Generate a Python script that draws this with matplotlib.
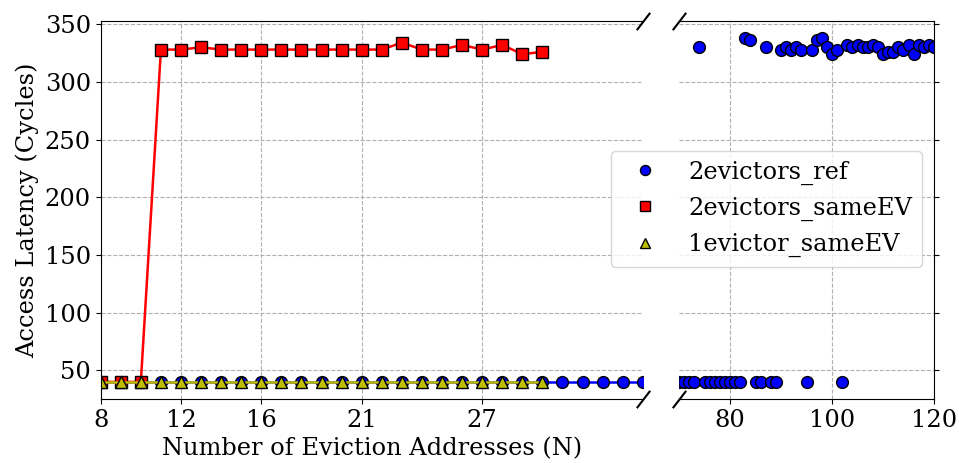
import numpy as np
import matplotlib
matplotlib.use('Agg')
import matplotlib.pyplot as plt
from matplotlib.lines import Line2D

plt.rcParams['font.family'] = 'DejaVu Serif'
plt.rcParams['font.size'] = 17.4

# eviction set sizes and measured latencies
ref_x = list(range(8, 36)) + list(range(70, 121))
ref_y = [40] * 28 + [
    40, 40, 40, 40, 330, 40, 40, 40, 40, 40, 40, 40, 40,   # 70-82
    338, 336, 40, 40, 330, 40, 40,                           # 83-89
    328, 330, 328, 330, 328, 40, 328, 336, 338, 330,         # 90-99
    324, 328, 40, 332, 330, 332, 330, 330, 332, 330,         # 100-109
    324, 326, 326, 330, 328, 332, 324, 332, 330, 332, 330,   # 110-120
]

same_x = list(range(8, 31))
same_y = [40, 40, 40, 328, 328, 330, 328, 328, 328, 328, 328, 328, 328,
          328, 328, 334, 328, 328, 332, 328, 332, 324, 326]

one_x = list(range(8, 31))
one_y = [40] * 23

left_ticks = [8, 12, 16, 21, 27]
right_ticks = [80, 100, 120]

fig, (ax1, ax2) = plt.subplots(1, 2, sharey=True, figsize=(9.59, 4.63), dpi=100,
                               gridspec_kw={'width_ratios': [542, 255]})
fig.subplots_adjust(left=0.105, right=0.974, bottom=0.138, top=0.955, wspace=0.091)

mk = dict(markersize=8.5, markeredgecolor='k', markeredgewidth=1)
ax1.plot(ref_x, ref_y, 'b-o', lw=1.8, **mk)
ax1.plot(same_x, same_y, 'r-s', lw=1.8, **mk)
ax1.plot(one_x, one_y, 'y-^', lw=1.8, **mk)
ax2.plot(ref_x, ref_y, 'bo', linestyle='none', **mk)

ax1.set_xlim(8, 35)
ax2.set_xlim(70, 120)
ax1.set_xticks(left_ticks)
ax2.set_xticks(right_ticks)
ax1.set_yticks(np.arange(50, 351, 50))

for ax in (ax1, ax2):
    ax.grid(True, linestyle='--', color='#b0b0b0')

ax1.spines['right'].set_visible(False)
ax2.spines['left'].set_visible(False)
ax1.yaxis.tick_left()
ax2.yaxis.tick_right()
ax2.tick_params(labelright=False, labelleft=False)

# diagonal break marks
d = 1.3
kw = dict(marker=[(-1, -d), (1, d)], markersize=12.5, linestyle='none',
          color='k', mec='k', mew=1.5, clip_on=False)
ax1.plot([1, 1], [0, 1], transform=ax1.transAxes, **kw)
ax2.plot([0, 0], [0, 1], transform=ax2.transAxes, **kw)

ax1.set_xlabel('Number of Eviction Addresses (N)')
ax1.set_ylabel('Access Latency (Cycles)')

handles = [
    Line2D([], [], color='b', marker='o', linestyle='none', **mk),
    Line2D([], [], color='r', marker='s', linestyle='none', **mk),
    Line2D([], [], color='y', marker='^', linestyle='none', **mk),
]
fig.legend(handles, ['2evictors_ref', '2evictors_sameEV', '1evictor_sameEV'],
           loc='center', bbox_to_anchor=(0.799, 0.549), markerscale=0.85)

fig.savefig('out.png', dpi=100)
